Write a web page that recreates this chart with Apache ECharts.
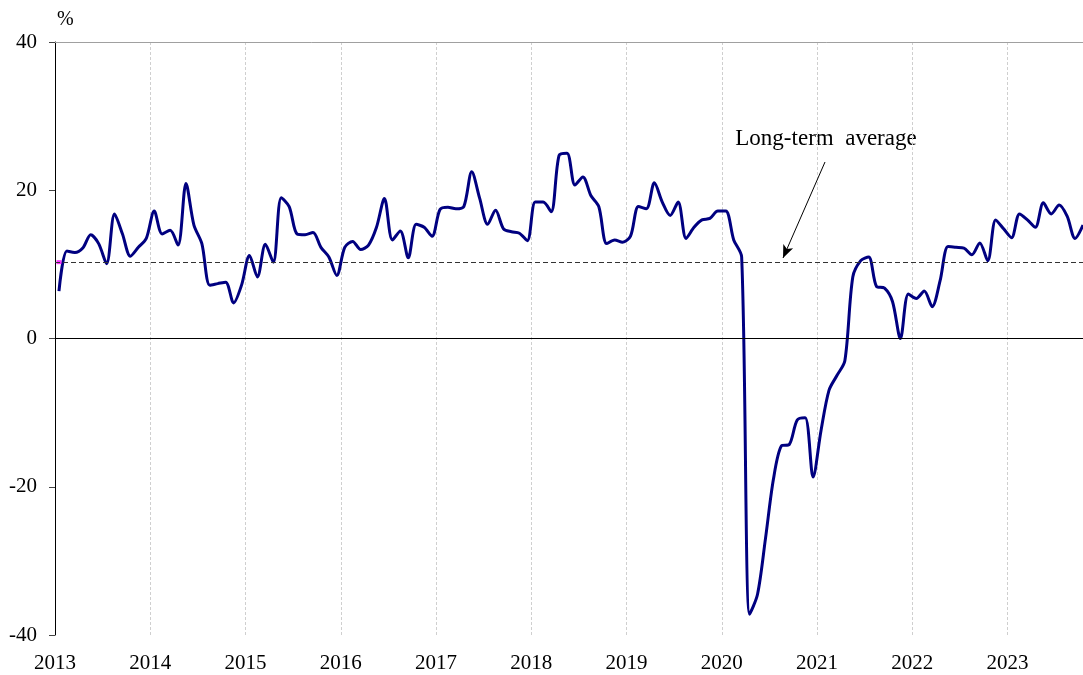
<!DOCTYPE html>
<html>
<head>
<meta charset="utf-8">
<script src="https://cdn.jsdelivr.net/npm/echarts@6/dist/echarts.min.js"></script>
<style>
  html, body { margin: 0; padding: 0; background: #fff; }
  #chart { width: 1083px; height: 675px; }
</style>
</head>
<body>
<div id="chart"></div>
<script>
// monthly values, Jan 2013 .. Oct 2023 (%)
var startYear = 2013;
var monthlyValues = [
  6.4, 11.8, 11.6, 12.2, 14.0, 12.8, 10.1, 16.8, 14.1, 11.1, 12.3, 13.5,
  17.2, 14.1, 14.6, 12.6, 20.9, 15.3, 12.8, 7.2, 7.4, 7.6, 4.8, 7.2,
  11.2, 8.3, 12.7, 10.3, 19.0, 17.8, 14.1, 14.0, 14.3, 12.3, 11.0, 8.5,
  12.3, 13.1, 12.0, 12.6, 15.0, 18.9, 13.3, 14.5, 10.9, 15.4, 15.0, 13.8,
  17.4, 17.7, 17.5, 17.8, 22.5, 18.9, 15.4, 17.3, 14.8, 14.4, 14.2, 13.2,
  18.4, 18.4, 17.1, 24.7, 25.0, 20.7, 21.8, 19.3, 17.8, 12.8, 13.3, 13.0,
  13.8, 17.8, 17.5, 21.0, 18.4, 16.6, 18.4, 13.5, 15.0, 16.0, 16.2, 17.2,
  17.2, 13.3, 11.0, -37.2, -34.5, -27.0, -19.0, -14.5, -14.3, -11.0, -10.7, -18.7,
  -12.4, -7.0, -5.0, -3.0, 8.3, 10.5, 11.0, 7.0, 6.8, 5.0, 0.0, 6.0,
  5.4, 6.4, 4.3, 7.8, 12.4, 12.3, 12.2, 11.3, 12.9, 10.5, 16.0, 14.8,
  13.6, 16.8, 16.0, 15.0, 18.3, 16.8, 18.0, 16.5, 13.5, 15.3
];
var longTermAverage = 10.3;
var yTicks = [-40, -20, 0, 20, 40];

var serif = 'Liberation Serif';
var xMin = startYear;
var xMax = startYear + (monthlyValues.length - 0.5) / 12;

var lineData = monthlyValues.map(function (v, i) {
  return [startYear + (i + 0.5) / 12, v];
});

var chart = echarts.init(document.getElementById('chart'));
var option = {
  backgroundColor: '#fff',
  animation: false,
  grid: { left: 55, right: 0, top: 42, bottom: 40 },
  xAxis: [{
    type: 'value',
    min: xMin,
    max: xMax,
    interval: 1,
    axisLine: { show: true, lineStyle: { color: '#a0a0a0', width: 1 } },
    axisTick: { show: false },
    axisLabel: {
      color: '#000', fontFamily: serif, fontSize: 21, margin: 18,
      showMaxLabel: false,
      formatter: function (v) { return Number.isInteger(v) ? String(v) : ''; }
    },
    splitLine: { show: true, lineStyle: { color: '#cfcfcf', width: 1, type: [3, 2] } }
  }, {
    type: 'value',
    position: 'top',
    min: xMin,
    max: xMax,
    axisLine: { show: true, lineStyle: { color: '#a0a0a0', width: 1 } },
    axisTick: { show: false },
    axisLabel: { show: false },
    splitLine: { show: false }
  }],
  yAxis: {
    type: 'value',
    min: yTicks[0],
    max: yTicks[yTicks.length - 1],
    interval: 20,
    axisLine: { show: true, onZero: false, lineStyle: { color: '#000', width: 1 } },
    axisTick: { show: true, length: 6, lineStyle: { color: '#444' } },
    axisLabel: { color: '#000', fontFamily: serif, fontSize: 21, margin: 18 },
    splitLine: { show: false }
  },
  graphic: [
    { type: 'text', left: 57, top: 10, style: { text: '%', font: '20px "Liberation Serif"', fill: '#000' } },
    { type: 'text', x: 826, y: 139, style: { text: 'Long-term  average', font: '23px "Liberation Serif"', fill: '#000', align: 'center', verticalAlign: 'middle' } }
  ],
  series: [
    {
      type: 'line',
      data: [],
      z: 1,
      silent: true,
      markLine: {
        silent: true,
        symbol: 'none',
        label: { show: false },
        animation: false,
        data: [
          { yAxis: 0, lineStyle: { color: '#000', width: 1, type: 'solid' } },
          { yAxis: longTermAverage, lineStyle: { color: '#333', width: 1, type: [5, 3] } },
          [
            { x: 825, y: 162, symbol: 'none' },
            { x: 783, y: 258, symbol: 'arrow', symbolSize: [8, 13],
              lineStyle: { color: '#000', width: 1, type: 'solid' } }
          ]
        ]
      }
    },
    {
      type: 'line',
      data: lineData,
      smooth: 0.3,
      showSymbol: false,
      z: 3,
      lineStyle: { color: '#000080', width: 3 },
      itemStyle: { color: '#000080' }
    },
    {
      type: 'scatter',
      data: [[lineData[0][0], longTermAverage]],
      symbol: 'rect',
      symbolSize: [5, 4],
      z: 4,
      itemStyle: { color: '#ff00ff' }
    }
  ]
};
chart.setOption(option);
</script>
</body>
</html>
